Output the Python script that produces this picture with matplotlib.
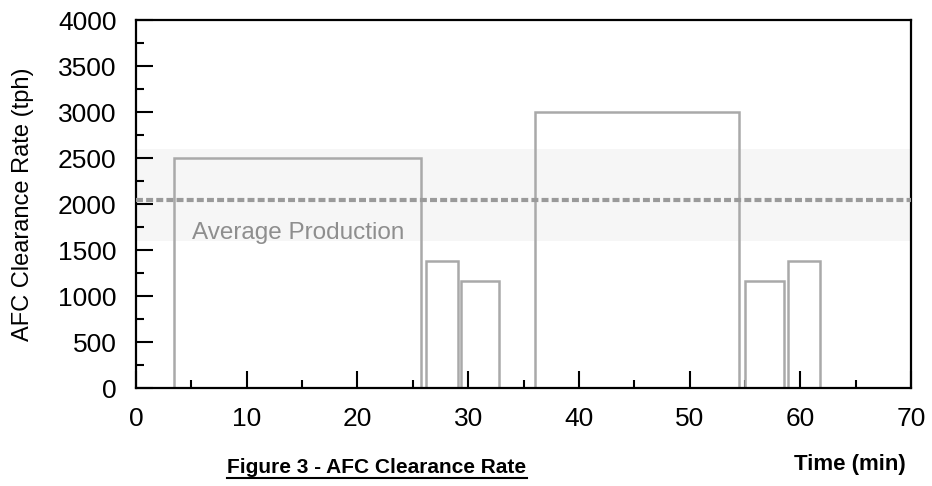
import matplotlib
matplotlib.use("Agg")
import matplotlib.pyplot as plt
from matplotlib.lines import Line2D
from matplotlib.ticker import MultipleLocator

plt.rcParams['font.family'] = ['Liberation Sans', 'DejaVu Sans']
plt.rcParams['lines.scale_dashes'] = False

# Data
period_start = [3.4, 26.2, 29.4, 36.0, 55.0, 58.9]      # min
period_end = [25.7, 29.1, 32.8, 54.5, 58.5, 61.8]       # min
clearance_rate = [2500, 1380, 1160, 3000, 1160, 1380]   # tph
average_production = 2040                               # tph
band_low, band_high = 1600, 2600                        # tph
x_ticks = [0, 10, 20, 30, 40, 50, 60, 70]
y_ticks = [0, 500, 1000, 1500, 2000, 2500, 3000, 3500, 4000]

W, H = 932, 486
fig = plt.figure(figsize=(W / 100, H / 100), dpi=100)
ax = fig.add_axes([136 / W, 1 - 388 / H, (911 - 136) / W, (388 - 20) / H])

gray = '#a9a9a9'
ax.axhspan(band_low, band_high, color='#f6f6f6', lw=0, zorder=0)
widths = [e - s for s, e in zip(period_start, period_end)]
ax.bar(period_start, clearance_rate, width=widths, align='edge', fill=False,
       edgecolor=gray, linewidth=1.8, zorder=2)
ax.axhline(average_production, color='#9a9a9a', lw=3, dashes=(5, 2.3), zorder=3)
ax.text(5.1, 1690, 'Average Production', color='#8e8e8e', fontsize=17.5,
        va='center', ha='left', zorder=4)

ax.set_xlim(0, 70)
ax.set_ylim(0, 4000)
ax.set_xticks(x_ticks)
ax.set_yticks(y_ticks)
ax.xaxis.set_minor_locator(MultipleLocator(5))
ax.yaxis.set_minor_locator(MultipleLocator(250))
ax.tick_params(which='both', direction='in', top=False, right=False,
               width=1.5, color='black')
ax.tick_params(which='major', length=12, labelsize=19)
ax.tick_params(which='minor', length=6)
ax.tick_params(axis='y', which='major', pad=14)
ax.tick_params(axis='x', which='major', pad=14)
for sp in ax.spines.values():
    sp.set_linewidth(1.6)
    sp.set_color('black')

ax.set_ylabel('AFC Clearance Rate (tph)', fontsize=17)
ax.yaxis.set_label_coords((34 - 136) / (911 - 136), 0.5)

fig.text(850 / W, 1 - 464 / H, 'Time (min)', fontsize=16, fontweight='bold',
         ha='center', va='center')
t = fig.text(377 / W, 1 - 467 / H, 'Figure 3 - AFC Clearance Rate', fontsize=15,
             fontweight='bold', ha='center', va='center')

fig.canvas.draw()
bb = t.get_window_extent(renderer=fig.canvas.get_renderer())
uy = (bb.y0 - 1.5) / H
fig.add_artist(Line2D([bb.x0 / W, bb.x1 / W], [uy, uy], color='black', lw=1.5,
                      transform=fig.transFigure))

fig.savefig('out.png', dpi=100)
